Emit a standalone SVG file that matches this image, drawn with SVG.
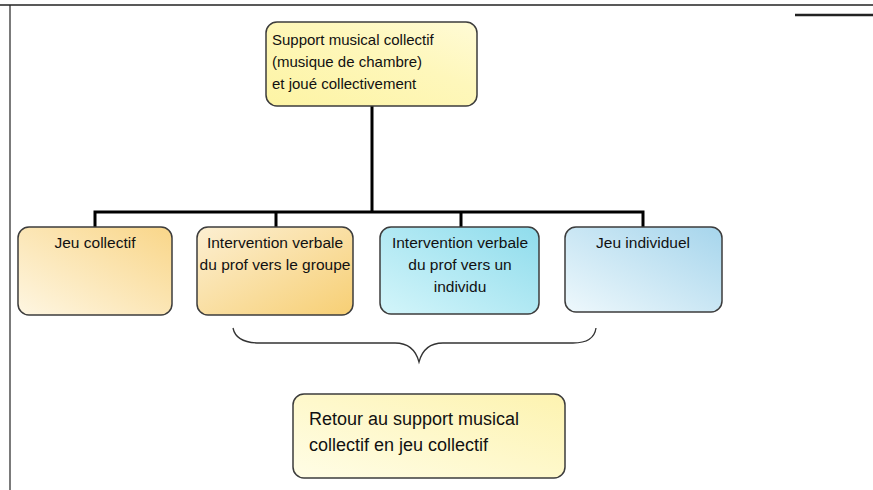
<svg xmlns="http://www.w3.org/2000/svg" width="873" height="490" viewBox="0 0 873 490">
<defs>
<linearGradient id="gYellow" x1="0" y1="1" x2="1" y2="0">
<stop offset="0" stop-color="#fdf4a4"/><stop offset="0.6" stop-color="#fef7bb"/><stop offset="1" stop-color="#fffbd6"/>
</linearGradient>
<linearGradient id="gOrange1" x1="0" y1="1" x2="1" y2="0">
<stop offset="0" stop-color="#fef6e2"/><stop offset="1" stop-color="#f9d689"/>
</linearGradient>
<linearGradient id="gOrange2" x1="0" y1="0" x2="1" y2="1">
<stop offset="0" stop-color="#fcefd2"/><stop offset="1" stop-color="#f7cf74"/>
</linearGradient>
<linearGradient id="gCyan" x1="0" y1="1" x2="1" y2="0">
<stop offset="0" stop-color="#d3f5fa"/><stop offset="1" stop-color="#8fdcec"/>
</linearGradient>
<linearGradient id="gBlue" x1="0" y1="1" x2="1" y2="0">
<stop offset="0" stop-color="#eef8fc"/><stop offset="1" stop-color="#a6d5ec"/>
</linearGradient>
<linearGradient id="gCream" x1="0" y1="1" x2="1" y2="0">
<stop offset="0" stop-color="#fffde6"/><stop offset="1" stop-color="#fdf3b0"/>
</linearGradient>
<style>
.box{stroke:#3c3c3c;stroke-width:1.5}
.t{font-family:"Liberation Sans",Arial,sans-serif;font-size:15.5px;fill:#111}
.tt{font-size:15px}
.tb{font-size:18px}
.c{text-anchor:middle}
.conn{stroke:#000;stroke-width:3;fill:none}
.frame{stroke:#222;fill:none}
</style>
</defs>
<g id="frame">
<line class="frame" x1="0" y1="5" x2="873" y2="5" stroke-width="1.5"/>
<line class="frame" x1="795" y1="15" x2="873" y2="15" stroke-width="2.5"/>
<line class="frame" x1="10" y1="5" x2="10" y2="490" stroke-width="1.2" stroke="#666"/>
</g>
<g id="connectors">
<path class="conn" d="M372 106 V212 M95 228 V212 H643 V228 M276 212 V228 M461 212 V228"/>
<path d="M233 328 Q236 343 260 343 H395 Q414 343 419 362 Q424 343 443 343 H573 Q594 343 596 328" fill="none" stroke="#333" stroke-width="1.3"/>
</g>
<g id="top">
<rect class="box" x="266" y="22" width="211" height="84" rx="11" fill="url(#gYellow)"/>
<text class="t tt" x="272" y="45">Support musical collectif</text>
<text class="t tt" x="272" y="67">(musique de chambre)</text>
<text class="t tt" x="272" y="89">et joué collectivement</text>
</g>
<g id="jeu-collectif">
<rect class="box" x="18" y="227" width="154" height="88" rx="11" fill="url(#gOrange1)"/>
<text class="t c" x="95" y="248">Jeu collectif</text>
</g>
<g id="verbal-groupe">
<rect class="box" x="197" y="227" width="156" height="88" rx="11" fill="url(#gOrange2)"/>
<text class="t c" x="275" y="248">Intervention verbale</text>
<text class="t c" x="275" y="270">du prof vers le groupe</text>
</g>
<g id="verbal-individu">
<rect class="box" x="380" y="227" width="159" height="87" rx="11" fill="url(#gCyan)"/>
<text class="t c" x="460" y="248">Intervention verbale</text>
<text class="t c" x="460" y="270">du prof vers un</text>
<text class="t c" x="460" y="292">individu</text>
</g>
<g id="jeu-individuel">
<rect class="box" x="565" y="227" width="157" height="85" rx="11" fill="url(#gBlue)"/>
<text class="t c" x="643" y="248">Jeu individuel</text>
</g>
<g id="retour">
<rect class="box" x="293" y="394" width="272" height="84" rx="11" fill="url(#gCream)"/>
<text class="t tb" x="309" y="425">Retour au support musical</text>
<text class="t tb" x="309" y="451">collectif en jeu collectif</text>
</g>
</svg>
